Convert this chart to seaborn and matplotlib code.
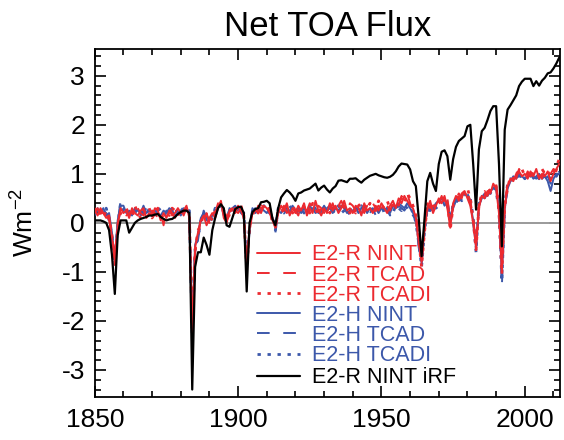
import numpy as np
import pandas as pd
import matplotlib
matplotlib.use("Agg")
import matplotlib.pyplot as plt
import seaborn as sns
from matplotlib.ticker import MultipleLocator

years = list(range(1850, 2013))

r_nint = [
    0.25, 0.15, 0.3, 0.2, 0.1, 0.15, -0.3, -0.8, -0.05, 0.3,
    0.2, 0.25, 0.1, 0.3, 0.2, 0.15, 0.25, 0.3, 0.1, 0.2,
    0.15, 0.3, 0.25, 0.05, 0.2, 0.1, 0.25, 0.15, 0.2, 0.3,
    0.2, 0.25, 0.35, 0.1, -2.2, -0.5, -0.2, 0.05, 0.15, -0.05,
    0.1, 0.2, 0.1, 0.3, 0.45, 0.1, 0.0, 0.25, 0.3, 0.2,
    0.35, 0.25, 0.1, -0.9, -0.1, 0.2, 0.25, 0.3, 0.2, 0.35,
    0.3, 0.2, 0.05, -0.1, 0.2, 0.35, 0.25, 0.4, 0.15, 0.3,
    0.2, 0.35, 0.25, 0.4, 0.15, 0.3, 0.2, 0.45, 0.25, 0.15,
    0.3, 0.2, 0.4, 0.25, 0.35, 0.2, 0.3, 0.45, 0.25, 0.3,
    0.2, 0.35, 0.3, 0.15, 0.4, 0.25, 0.3, 0.2, 0.35, 0.25,
    0.4, 0.3, 0.2, 0.35, 0.45, 0.3, 0.5, 0.4, 0.55, 0.45,
    0.35, 0.3, 0.1, -0.4, -0.8, -0.15, 0.3, 0.45, 0.2, 0.35,
    0.5, 0.4, 0.55, 0.3, -0.1, 0.4, 0.55, 0.45, 0.6, 0.65,
    0.5, 0.35, 0.0, -0.5, 0.3, 0.55, 0.5, 0.65, 0.6, 0.8,
    0.7, 0.2, -1.0, 0.3, 0.75, 0.9, 0.85, 1.0, 1.05, 0.95,
    1.0, 0.9, 1.05, 0.95, 1.1, 0.9, 1.0, 0.95, 1.05, 0.85,
    1.0, 1.1, 1.2]

r_tcad = [
    0.2, 0.3, 0.15, 0.25, 0.2, 0.05, -0.2, -0.75, 0.0, 0.25,
    0.3, 0.15, 0.2, 0.25, 0.1, 0.3, 0.2, 0.15, 0.25, 0.1,
    0.25, 0.2, 0.1, 0.2, -0.05, 0.25, 0.3, 0.2, 0.1, 0.25,
    0.3, 0.15, 0.3, 0.2, -2.25, -0.6, -0.3, 0.1, 0.05, 0.2,
    0.0, 0.25, 0.2, 0.4, 0.3, 0.25, 0.05, 0.15, 0.35, 0.25,
    0.2, 0.3, 0.2, -0.85, -0.2, 0.25, 0.15, 0.35, 0.3, 0.2,
    0.35, 0.25, 0.1, -0.15, 0.3, 0.25, 0.35, 0.2, 0.3, 0.4,
    0.25, 0.15, 0.35, 0.3, 0.25, 0.4, 0.3, 0.2, 0.35, 0.3,
    0.2, 0.35, 0.25, 0.4, 0.2, 0.35, 0.45, 0.3, 0.2, 0.4,
    0.35, 0.25, 0.4, 0.3, 0.2, 0.35, 0.25, 0.4, 0.3, 0.35,
    0.25, 0.4, 0.35, 0.25, 0.4, 0.5, 0.35, 0.55, 0.45, 0.6,
    0.4, 0.25, 0.2, -0.3, -0.85, -0.1, 0.4, 0.3, 0.35, 0.25,
    0.4, 0.55, 0.35, 0.5, 0.0, 0.3, 0.5, 0.6, 0.5, 0.7,
    0.6, 0.45, 0.1, -0.45, 0.4, 0.5, 0.65, 0.55, 0.75, 0.7,
    0.8, 0.3, -0.95, 0.4, 0.8, 0.85, 0.95, 0.9, 1.1, 1.0,
    0.9, 1.05, 0.95, 1.0, 0.95, 1.05, 0.9, 1.1, 0.95, 1.0,
    1.1, 1.05, 1.25]

r_tcadi = [
    0.3, 0.2, 0.25, 0.1, 0.25, 0.1, -0.25, -0.85, -0.1, 0.2,
    0.25, 0.3, 0.15, 0.2, 0.35, 0.2, 0.1, 0.25, 0.2, 0.3,
    0.1, 0.2, 0.3, 0.15, 0.1, 0.2, 0.15, 0.3, 0.25, 0.15,
    0.25, 0.3, 0.2, 0.15, -2.15, -0.55, -0.15, -0.05, 0.2, 0.1,
    0.15, 0.05, 0.25, 0.35, 0.4, 0.2, 0.1, 0.3, 0.2, 0.3,
    0.25, 0.35, 0.15, -0.95, -0.05, 0.15, 0.3, 0.2, 0.35, 0.3,
    0.25, 0.3, 0.0, -0.05, 0.25, 0.3, 0.2, 0.35, 0.3, 0.2,
    0.3, 0.25, 0.2, 0.35, 0.3, 0.2, 0.4, 0.3, 0.15, 0.35,
    0.25, 0.3, 0.2, 0.35, 0.3, 0.4, 0.25, 0.35, 0.3, 0.2,
    0.3, 0.2, 0.35, 0.4, 0.25, 0.3, 0.4, 0.3, 0.25, 0.45,
    0.3, 0.35, 0.45, 0.3, 0.35, 0.4, 0.45, 0.5, 0.4, 0.6,
    0.5, 0.35, 0.15, -0.35, -0.9, -0.2, 0.35, 0.4, 0.25, 0.45,
    0.45, 0.35, 0.5, 0.45, -0.15, 0.35, 0.45, 0.55, 0.65, 0.6,
    0.7, 0.5, 0.05, -0.55, 0.35, 0.6, 0.55, 0.7, 0.65, 0.75,
    0.75, 0.25, -1.05, 0.35, 0.7, 0.95, 0.9, 1.05, 1.0, 1.1,
    0.95, 1.0, 0.9, 1.05, 1.0, 0.95, 1.1, 1.0, 1.05, 0.95,
    1.05, 1.15, 1.3]

h_nint = [
    0.2, 0.25, 0.2, 0.3, 0.15, 0.2, -0.2, -0.75, 0.05, 0.35,
    0.35, 0.2, 0.25, 0.15, 0.3, 0.25, 0.2, 0.35, 0.2, 0.25,
    0.2, 0.25, 0.2, 0.15, 0.25, 0.2, 0.3, 0.25, 0.15, 0.2,
    0.25, 0.2, 0.3, 0.2, -2.3, -0.45, -0.25, 0.1, 0.2, 0.05,
    0.05, 0.15, 0.2, 0.35, 0.4, 0.15, 0.05, 0.3, 0.25, 0.3,
    0.3, 0.2, 0.15, -0.9, -0.1, 0.3, 0.2, 0.25, 0.3, 0.25,
    0.2, 0.3, 0.1, -0.1, 0.25, 0.2, 0.3, 0.25, 0.2, 0.35,
    0.25, 0.3, 0.2, 0.3, 0.2, 0.35, 0.25, 0.3, 0.2, 0.25,
    0.35, 0.25, 0.3, 0.2, 0.3, 0.25, 0.35, 0.3, 0.2, 0.25,
    0.25, 0.3, 0.2, 0.3, 0.35, 0.2, 0.3, 0.25, 0.3, 0.2,
    0.3, 0.25, 0.3, 0.2, 0.35, 0.3, 0.4, 0.35, 0.3, 0.4,
    0.3, 0.2, 0.1, -0.45, -0.8, -0.05, 0.25, 0.35, 0.3, 0.4,
    0.45, 0.5, 0.35, 0.45, 0.1, 0.35, 0.5, 0.45, 0.55, 0.6,
    0.55, 0.4, 0.05, -0.5, 0.35, 0.5, 0.6, 0.55, 0.65, 0.7,
    0.75, 0.3, -1.1, 0.3, 0.7, 0.85, 0.95, 0.9, 1.0, 0.95,
    0.9, 0.95, 1.0, 0.9, 0.95, 1.0, 0.9, 0.95, 0.85, 0.65,
    0.9, 1.0, 1.0]

h_tcad = [
    0.15, 0.3, 0.1, 0.25, 0.2, 0.1, -0.3, -0.85, 0.0, 0.45,
    0.3, 0.25, 0.15, 0.2, 0.25, 0.35, 0.15, 0.2, 0.3, 0.15,
    0.25, 0.15, 0.3, 0.2, 0.15, 0.25, 0.2, 0.3, 0.2, 0.25,
    0.15, 0.3, 0.25, 0.15, -2.35, -0.5, -0.35, 0.0, 0.25, 0.1,
    0.1, 0.2, 0.15, 0.3, 0.45, 0.2, 0.0, 0.2, 0.3, 0.35,
    0.25, 0.3, 0.1, -0.95, -0.15, 0.25, 0.3, 0.2, 0.25, 0.3,
    0.3, 0.25, 0.05, -0.2, 0.2, 0.3, 0.25, 0.3, 0.25, 0.2,
    0.3, 0.2, 0.25, 0.35, 0.15, 0.25, 0.3, 0.2, 0.25, 0.3,
    0.2, 0.3, 0.35, 0.25, 0.2, 0.3, 0.25, 0.35, 0.25, 0.15,
    0.3, 0.25, 0.3, 0.2, 0.25, 0.35, 0.2, 0.3, 0.15, 0.25,
    0.2, 0.3, 0.25, 0.15, 0.3, 0.25, 0.35, 0.3, 0.25, 0.35,
    0.25, 0.15, 0.05, -0.5, -0.85, -0.15, 0.2, 0.3, 0.25, 0.35,
    0.4, 0.45, 0.4, 0.35, 0.05, 0.3, 0.45, 0.5, 0.5, 0.55,
    0.6, 0.45, 0.0, -0.55, 0.3, 0.55, 0.5, 0.6, 0.7, 0.65,
    0.7, 0.2, -1.3, 0.25, 0.75, 0.8, 0.9, 0.95, 1.0, 0.9,
    0.95, 0.9, 1.0, 0.95, 0.9, 1.05, 0.95, 0.9, 0.95, 0.8,
    0.95, 0.95, 1.05]

h_tcadi = [
    0.25, 0.15, 0.25, 0.2, 0.3, 0.05, -0.25, -0.8, -0.05, 0.4,
    0.25, 0.3, 0.2, 0.25, 0.2, 0.3, 0.25, 0.2, 0.15, 0.3,
    0.15, 0.2, 0.25, 0.3, 0.2, 0.15, 0.25, 0.2, 0.3, 0.2,
    0.3, 0.25, 0.2, 0.25, -2.3, -0.55, -0.3, 0.05, 0.1, 0.15,
    0.0, 0.1, 0.3, 0.25, 0.4, 0.25, 0.05, 0.25, 0.2, 0.3,
    0.3, 0.25, 0.2, -0.9, -0.05, 0.2, 0.25, 0.3, 0.2, 0.35,
    0.25, 0.2, 0.15, -0.15, 0.3, 0.25, 0.2, 0.3, 0.35, 0.25,
    0.2, 0.25, 0.3, 0.2, 0.3, 0.2, 0.25, 0.35, 0.3, 0.2,
    0.3, 0.25, 0.2, 0.3, 0.25, 0.35, 0.2, 0.25, 0.3, 0.3,
    0.2, 0.3, 0.25, 0.35, 0.2, 0.25, 0.35, 0.2, 0.25, 0.3,
    0.35, 0.2, 0.3, 0.25, 0.2, 0.35, 0.3, 0.25, 0.35, 0.3,
    0.2, 0.25, 0.0, -0.4, -0.9, -0.2, 0.3, 0.25, 0.35, 0.3,
    0.35, 0.4, 0.45, 0.4, 0.0, 0.4, 0.4, 0.55, 0.45, 0.6,
    0.5, 0.5, 0.1, -0.6, 0.4, 0.45, 0.6, 0.65, 0.6, 0.75,
    0.65, 0.25, -1.2, 0.35, 0.8, 0.9, 0.85, 0.95, 0.95, 1.0,
    0.9, 1.0, 0.95, 1.0, 0.95, 0.9, 1.0, 0.95, 1.0, 0.9,
    1.0, 0.95, 1.05]

r_nint_irf = [
    0.05, 0.05, 0.05, 0.03, 0.0, -0.15, -0.65, -1.45, -0.25, 0.05,
    0.05, 0.05, -0.2, -0.1, 0.0, 0.05, 0.08, 0.1, 0.12, 0.15,
    0.15, 0.17, 0.18, 0.12, 0.08, 0.05, 0.07, 0.08, 0.12, 0.18,
    0.22, 0.25, 0.25, 0.2, -3.4, -0.9, -0.6, -0.6, -0.3, -0.45,
    -0.65, -0.15, 0.1, 0.3, 0.38, 0.3, -0.05, -0.08, 0.1, 0.28,
    0.32, 0.33, 0.2, -1.4, 0.0, 0.22, 0.28, 0.3, 0.42, 0.43,
    0.45, 0.4, 0.08, -0.05, 0.3, 0.52, 0.6, 0.67, 0.62, 0.55,
    0.45, 0.6, 0.62, 0.66, 0.68, 0.7, 0.75, 0.8, 0.66, 0.72,
    0.76, 0.68, 0.62, 0.7, 0.75, 0.86, 0.87, 0.85, 0.83, 0.9,
    0.9, 0.91, 0.86, 0.82, 0.88, 0.92, 0.96, 0.98, 1.0, 0.97,
    0.95, 0.93, 0.92, 0.94, 0.98, 1.05, 1.15, 1.21, 1.2, 1.19,
    1.09, 0.85, 0.75, 0.1, -0.68, 0.07, 0.85, 1.02, 0.8, 0.65,
    1.2, 1.45, 1.48, 1.36, 0.88, 1.3, 1.55, 1.67, 1.72, 1.77,
    1.97, 2.0, 1.2, 0.27, 1.5, 1.87, 1.94, 2.1, 2.28, 2.38,
    2.38, 1.2, -0.48, 1.9, 2.31, 2.4, 2.5, 2.6, 2.79, 2.88,
    2.94, 2.94, 2.94, 2.79, 2.89, 2.8, 2.9, 2.96, 3.05, 3.07,
    3.15, 3.25, 3.37]

labels = ["E2-R NINT", "E2-R TCAD", "E2-R TCADI",
          "E2-H NINT", "E2-H TCAD", "E2-H TCADI", "E2-R NINT iRF"]

RED = "#EC2A30"
BLUE = "#3C58AA"

sns.set_style("ticks")
plt.rcParams["font.family"] = ["Liberation Sans", "DejaVu Sans"]
plt.rcParams["axes.unicode_minus"] = False
plt.rcParams["mathtext.default"] = "regular"
for k in ["text.color", "axes.labelcolor", "xtick.color", "ytick.color",
          "axes.edgecolor"]:
    plt.rcParams[k] = "black"

fig = plt.figure(figsize=(5.64, 4.40), dpi=100)
ax = fig.add_axes([0.168, 0.098, 0.825, 0.791])

ax.axhline(0, color="#9a9a9a", lw=1.4, zorder=1)

DASH = (0, (6.5, 7))
DOT = (0, (1.2, 2.4))
series = [
    (r_nint, RED, "-", 1.4, 4),
    (r_tcad, RED, DASH, 1.4, 4),
    (r_tcadi, RED, DOT, 2.0, 4),
    (h_nint, BLUE, "-", 1.4, 3),
    (h_tcad, BLUE, DASH, 1.4, 3),
    (h_tcadi, BLUE, DOT, 2.0, 3),
    (r_nint_irf, "black", "-", 1.6, 5),
]

for (vals, col, ls, lw, z), lab in zip(series, labels):
    sns.lineplot(x=years, y=vals, ax=ax, color=col, linestyle=ls,
                 linewidth=lw, label=lab, estimator=None, zorder=z)

ax.set_xlim(1850, 2012.3)
ax.set_ylim(-3.55, 3.55)
ax.xaxis.set_major_locator(MultipleLocator(50))
ax.xaxis.set_minor_locator(MultipleLocator(10))
ax.yaxis.set_major_locator(MultipleLocator(1))
ax.yaxis.set_minor_locator(MultipleLocator(0.2))
ax.tick_params(which="both", direction="in", top=True, right=True,
               width=1.2, colors="black")
ax.tick_params(which="major", length=8, labelsize=19)
ax.tick_params(axis="x", which="major", pad=8)
ax.tick_params(axis="y", which="major", pad=7)
ax.tick_params(which="minor", length=4)
for sp in ax.spines.values():
    sp.set_linewidth(1.3)
    sp.set_color("black")

ax.set_xlabel("")
ax.set_ylabel("Wm$^{-2}$", fontsize=19)
ax.yaxis.set_label_coords(-0.12, 0.5)
ax.set_title("Net TOA Flux", fontsize=25, pad=9)

handles, labs = ax.get_legend_handles_labels()
common = dict(frameon=False, fontsize=15.5, handlelength=2.0,
              handletextpad=0.53, borderaxespad=0, borderpad=0,
              labelcolor="linecolor", loc="upper left")
leg1 = ax.legend(handles[:6], labs[:6], bbox_to_anchor=(0.349, 0.438),
                 labelspacing=-0.04, **common)
ax.add_artist(leg1)
leg2 = ax.legend(handles[6:], labs[6:], bbox_to_anchor=(0.349, 0.085),
                 **common)

fig.savefig("out.png", dpi=100)
